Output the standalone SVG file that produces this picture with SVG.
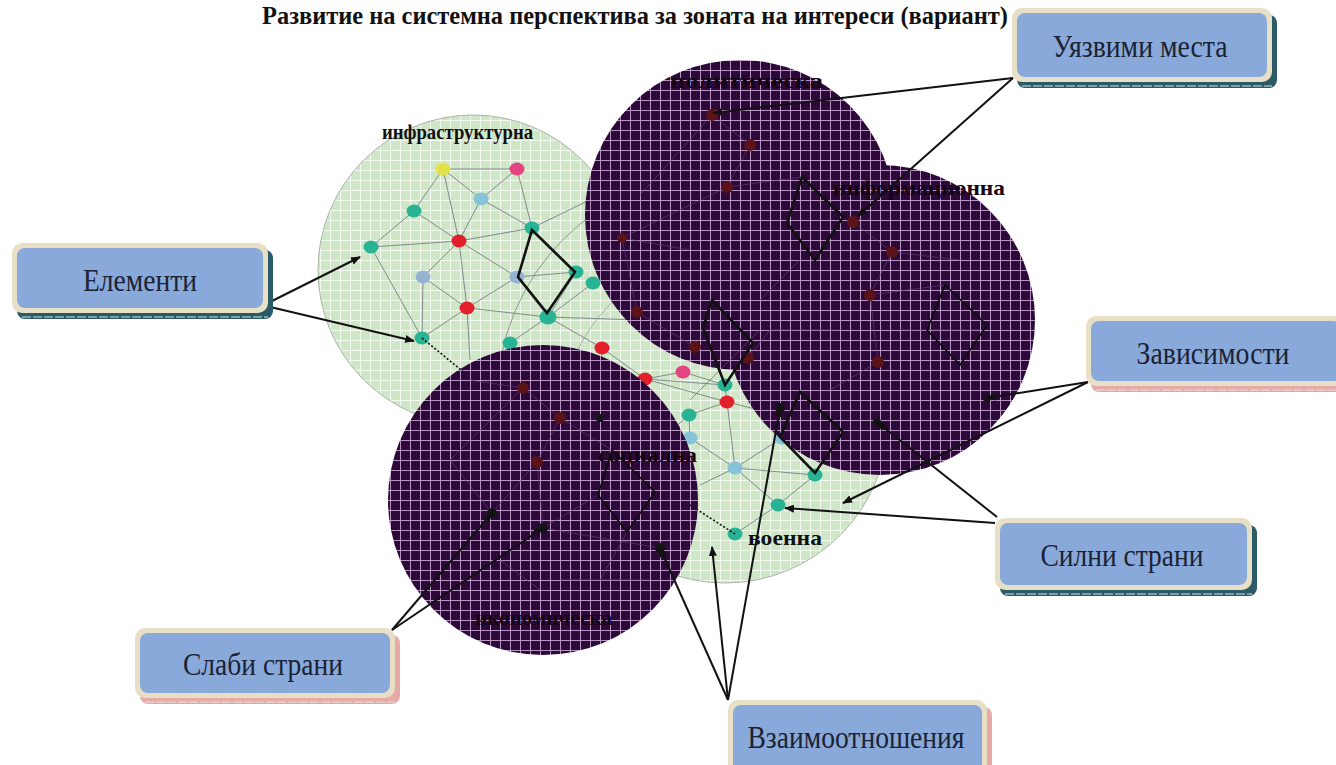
<svg xmlns="http://www.w3.org/2000/svg" width="1336" height="765" viewBox="0 0 1336 765">
<style>
.title{font-family:"Liberation Serif","Times New Roman",serif;font-weight:bold;fill:#111}
.lbl{font-family:"Liberation Serif","Times New Roman",serif;font-weight:bold;font-size:22px;fill:#111}
.dlbl{font-family:"Liberation Serif","Times New Roman",serif;font-weight:bold;font-size:21px;fill:#160414}
.btxt{font-family:"Liberation Serif","Times New Roman",serif;font-size:31px;fill:#1b2233}
.outer{fill:#e7e0c6}
.inner{fill:#88a9d9}
.shT{fill:#2b5b66}
.shP{fill:#e6aaa6}
.dash{stroke:#d8e4e4;stroke-width:1;stroke-dasharray:9 2}
.edge{stroke:#7f8c8c;stroke-width:1;fill:none}
.fedge{stroke:#6b3f86;stroke-width:1;fill:none;opacity:0.6}
.teal{fill:#27b394}
.red{fill:#e2202c}
.pink{fill:#e54482}
.yel{fill:#e4e24a}
.lb{fill:#86c2d8}
.bg{fill:#94b2d2}
.dn{fill:#5a1318}
.bk{fill:#141414}
.dia{fill:none;stroke:#111;stroke-width:2.6;stroke-linejoin:miter}
.diat{fill:none;stroke:#0c0c0c;stroke-width:1.6}
.conn{stroke:#111;stroke-width:2;fill:none}
.dot{stroke:#111;stroke-width:1.6;stroke-dasharray:2 2;fill:none}
</style>
<defs>
<pattern id="gridG" patternUnits="userSpaceOnUse" width="10" height="10">
<rect width="10" height="10" fill="#cfe7c6"/>
<path d="M0 0.5H10M0.5 0V10" stroke="#f3faf0" stroke-width="1"/>
</pattern>
<pattern id="gridD" patternUnits="userSpaceOnUse" width="10" height="10">
<rect width="10" height="10" fill="#2d0939"/>
<path d="M0 0.5H10M0.5 0V10" stroke="#cfaedb" stroke-width="1" opacity="0.85"/>
</pattern>
<marker id="arr" markerWidth="10" markerHeight="8" refX="9" refY="4" orient="auto" markerUnits="userSpaceOnUse" viewBox="0 0 10 8">
<path d="M0 0L10 4L0 8z" fill="#111"/>
</marker>
<clipPath id="clipA"><circle cx="473" cy="270" r="155"/></clipPath>
</defs>
<rect width="1336" height="765" fill="#fff"/>
<text class="title" x="262" y="24" font-size="26" textLength="746" lengthAdjust="spacingAndGlyphs">Развитие на системна перспектива за зоната на интереси (вариант)</text>

<g id="circle-infra">
<circle cx="473" cy="270" r="155" fill="url(#gridG)" stroke="#a9b6a9" stroke-width="1"/>
<circle cx="725" cy="400" r="228" fill="none" stroke="#8e9a8e" stroke-width="1" clip-path="url(#clipA)"/>
<text class="lbl" x="382" y="139" textLength="151" lengthAdjust="spacingAndGlyphs">инфраструктурна</text>
</g>
<g id="circle-military">
<circle cx="725" cy="420" r="163" fill="url(#gridG)" stroke="#a9b6a9" stroke-width="1"/>
<text class="lbl" x="748" y="545" textLength="74" lengthAdjust="spacingAndGlyphs">военна</text>
</g>

<g id="network-green">
<path class="edge" d="M443 169L517 169M443 169L414 211M443 169L481 199M443 169L459 241M517 169L481 199M517 169L532 228M481 199L532 228M481 199L459 241M414 211L371 247M414 211L459 241M371 247L459 241M371 247L422 338M459 241L532 228M459 241L423 277M459 241L517 277M459 241L467 308M423 277L467 308M423 277L422 338M517 277L576 272M517 277L467 308M517 277L548 317M467 308L548 317M467 308L422 338M467 308L470 360M548 317L593 283M548 317L510 343M548 317L602 348M576 272L548 317M532 228L600 195M593 283L630 268M548 317L640 320M602 348L645 379M645 379L683 372M645 379L725 385M683 372L725 385M645 379L727 402M725 385L727 402M727 402L689 415M727 402L735 468M727 402L800 420M689 415L690 438M690 438L735 468M735 468L815 475M735 468L778 505M735 468L700 485M778 505L735 534M778 505L815 475M782 438L735 468M602 348L600 380M510 343L500 365M689 415L660 440"/>
<ellipse class="yel" cx="443" cy="169" rx="7.5" ry="6.5"/>
<ellipse class="pink" cx="517" cy="169" rx="7.5" ry="6.5"/>
<ellipse class="lb" cx="481" cy="199" rx="7.5" ry="6.5"/>
<ellipse class="teal" cx="414" cy="211" rx="7.5" ry="6.5"/>
<ellipse class="teal" cx="532" cy="228" rx="7.5" ry="6.5"/>
<ellipse class="red" cx="459" cy="241" rx="7.5" ry="6.5"/>
<ellipse class="teal" cx="371" cy="247" rx="7.5" ry="6.5"/>
<ellipse class="bg" cx="423" cy="277" rx="7.5" ry="6.5"/>
<ellipse class="bg" cx="517" cy="277" rx="7.5" ry="6.5"/>
<ellipse class="teal" cx="576" cy="272" rx="7.5" ry="6.5"/>
<ellipse class="teal" cx="593" cy="283" rx="7.5" ry="6.5"/>
<ellipse class="red" cx="467" cy="308" rx="7.5" ry="6.5"/>
<ellipse class="teal" cx="548" cy="317" rx="8.5" ry="7.5"/>
<ellipse class="teal" cx="422" cy="338" rx="7.5" ry="6.5"/>
<ellipse class="teal" cx="510" cy="343" rx="7.5" ry="6.5"/>
<ellipse class="red" cx="602" cy="348" rx="7.5" ry="6.5"/>
<ellipse class="red" cx="645" cy="379" rx="7.5" ry="6.5"/>
<ellipse class="pink" cx="683" cy="372" rx="7.5" ry="6.5"/>
<ellipse class="teal" cx="725" cy="385" rx="7.5" ry="6.5"/>
<ellipse class="red" cx="727" cy="402" rx="7.5" ry="6.5"/>
<ellipse class="teal" cx="689" cy="415" rx="7.5" ry="6.5"/>
<ellipse class="lb" cx="690" cy="438" rx="7.5" ry="6.5"/>
<ellipse class="lb" cx="735" cy="468" rx="7.5" ry="6.5"/>
<ellipse class="lb" cx="782" cy="438" rx="7.5" ry="6.5"/>
<ellipse class="teal" cx="815" cy="475" rx="7.5" ry="6.5"/>
<ellipse class="teal" cx="778" cy="505" rx="7.5" ry="6.5"/>
<ellipse class="teal" cx="735" cy="534" rx="7.5" ry="6.5"/>
</g>

<g id="circle-political">
<circle cx="740" cy="215" r="155" fill="url(#gridD)"/>
<text class="dlbl" x="670" y="88" textLength="153" lengthAdjust="spacingAndGlyphs">политическа</text>
</g>
<g id="circle-information">
<circle cx="880" cy="320" r="155" fill="url(#gridD)"/>
<text class="dlbl" x="833" y="195" textLength="172" lengthAdjust="spacingAndGlyphs">информационна</text>
</g>
<g id="circle-social">
<circle cx="543" cy="500" r="155" fill="url(#gridD)"/>
<text class="dlbl" x="598" y="462" textLength="99" lengthAdjust="spacingAndGlyphs">социална</text>
<text class="dlbl" x="475" y="625" textLength="137" lengthAdjust="spacingAndGlyphs">икономическа</text>
</g>

<g id="network-dark">
<path class="fedge" d="M640 195L712 115L750 145L727 187L622 238L637 312L695 347M727 187L802 177M622 238L690 250M853 222L892 252L870 295L878 362M870 295L945 285M892 252L960 260M760 300L800 260M748 358L770 330M770 330L840 330M690 400L760 330M900 330L980 330M830 390L878 362M523 388L560 418L537 462L492 513M537 462L543 528L660 548M450 460L492 513M450 460L523 388M543 528L598 495M560 418L612 450M470 380L523 388M500 560L540 590M627 532L600 580M560 580L650 580"/>
<circle class="dn" cx="712" cy="115" r="6"/>
<circle class="dn" cx="750" cy="145" r="6"/>
<circle class="dn" cx="727" cy="187" r="6"/>
<circle class="dn" cx="622" cy="238" r="5"/>
<circle class="dn" cx="853" cy="222" r="6"/>
<circle class="dn" cx="892" cy="252" r="6"/>
<circle class="dn" cx="870" cy="295" r="6"/>
<circle class="dn" cx="637" cy="312" r="6"/>
<circle class="dn" cx="695" cy="347" r="6"/>
<circle class="dn" cx="748" cy="358" r="6"/>
<circle class="dn" cx="878" cy="362" r="6"/>
<circle class="dn" cx="523" cy="388" r="6"/>
<circle class="dn" cx="560" cy="418" r="6"/>
<circle class="dn" cx="537" cy="462" r="6"/>
<circle class="bk" cx="600" cy="418" r="4"/>
<circle class="bk" cx="877" cy="422" r="4"/>
<circle class="bk" cx="987" cy="398" r="4"/>
<circle class="bk" cx="492" cy="513" r="5"/>
<circle class="bk" cx="543" cy="528" r="5"/>
<circle class="bk" cx="660" cy="548" r="5"/>
<circle class="bk" cx="780" cy="408" r="5"/>
</g>

<g id="diamonds">
<path class="dia" d="M532 230L575 272L547 313L518 277Z"/>
<path class="dia" d="M802 177L843 217L815 260L787 223Z"/>
<path class="dia" d="M712 300L753 343L725 385L703 328Z"/>
<path class="dia" d="M800 392L843 432L815 473L780 437Z"/>
<path class="diat" d="M945 285L987 325L960 365L927 330Z"/>
<path class="diat" d="M612 450L655 492L627 532L598 495Z"/>
<path class="dot" d="M422 338L466 374"/>
<path class="dot" d="M735 534L690 505"/>
</g>

<g id="connectors">
<path class="conn" marker-end="url(#arr)" d="M266 304L360 257"/>
<path class="conn" marker-end="url(#arr)" d="M266 306L414 341"/>
<path class="conn" marker-end="url(#arr)" d="M1013 78L713 113"/>
<path class="conn" marker-end="url(#arr)" d="M1013 78L858 216"/>
<path class="conn" marker-end="url(#arr)" d="M1088 382L987 398"/>
<path class="conn" marker-end="url(#arr)" d="M1088 382L843 503"/>
<path class="conn" marker-end="url(#arr)" d="M997 517L877 422"/>
<path class="conn" marker-end="url(#arr)" d="M995 523L785 508"/>
<path class="conn" marker-end="url(#arr)" d="M392 630L492 513"/>
<path class="conn" marker-end="url(#arr)" d="M392 630L543 528"/>
<path class="conn" marker-end="url(#arr)" d="M728 700L660 548"/>
<path class="conn" marker-end="url(#arr)" d="M728 700L712 547"/>
<path class="conn" marker-end="url(#arr)" d="M728 700L780 408"/>
</g>

<g id="box-elementi">
<rect class="shT" x="17" y="250" width="256" height="69" rx="8"/>
<path class="dash" d="M22 317H268"/>
<rect class="outer" x="12" y="243" width="256" height="70" rx="10"/>
<rect class="inner" x="17" y="248" width="246" height="60" rx="8"/>
<text class="btxt" x="140" y="291" text-anchor="middle" textLength="114" lengthAdjust="spacingAndGlyphs">Елементи</text>
</g>
<g id="box-uyazvimi">
<rect class="shT" x="1017" y="15" width="260" height="73" rx="8"/>
<path class="dash" d="M1022 86H1272"/>
<rect class="outer" x="1012" y="8" width="260" height="74" rx="10"/>
<rect class="inner" x="1017" y="13" width="250" height="64" rx="8"/>
<text class="btxt" x="1140" y="57" text-anchor="middle" textLength="175" lengthAdjust="spacingAndGlyphs">Уязвими места</text>
</g>
<g id="box-zavisimosti">
<rect class="shP" x="1091" y="323" width="255" height="69" rx="8"/>
<path class="dash" d="M1096 390H1336"/>
<rect class="outer" x="1086" y="316" width="260" height="70" rx="10"/>
<rect class="inner" x="1091" y="321" width="250" height="60" rx="8"/>
<text class="btxt" x="1213" y="364" text-anchor="middle" textLength="153" lengthAdjust="spacingAndGlyphs">Зависимости</text>
</g>
<g id="box-silni">
<rect class="shT" x="1000" y="525" width="257" height="71" rx="8"/>
<path class="dash" d="M1005 594H1252"/>
<rect class="outer" x="995" y="518" width="257" height="72" rx="10"/>
<rect class="inner" x="1000" y="523" width="247" height="62" rx="8"/>
<text class="btxt" x="1122" y="566" text-anchor="middle" textLength="163" lengthAdjust="spacingAndGlyphs">Силни страни</text>
</g>
<g id="box-slabi">
<rect class="shP" x="140" y="635" width="260" height="69" rx="8"/>
<path class="dash" d="M145 702H395"/>
<rect class="outer" x="135" y="628" width="260" height="70" rx="10"/>
<rect class="inner" x="140" y="633" width="250" height="60" rx="8"/>
<text class="btxt" x="263" y="675" text-anchor="middle" textLength="160" lengthAdjust="spacingAndGlyphs">Слаби страни</text>
</g>
<g id="box-vzaimo">
<rect class="shP" x="733" y="707" width="259" height="70" rx="8"/>
<rect class="outer" x="728" y="700" width="259" height="75" rx="10"/>
<rect class="inner" x="733" y="705" width="249" height="70" rx="8"/>
<text class="btxt" x="856" y="748" text-anchor="middle" textLength="217" lengthAdjust="spacingAndGlyphs">Взаимоотношения</text>
</g>
</svg>
